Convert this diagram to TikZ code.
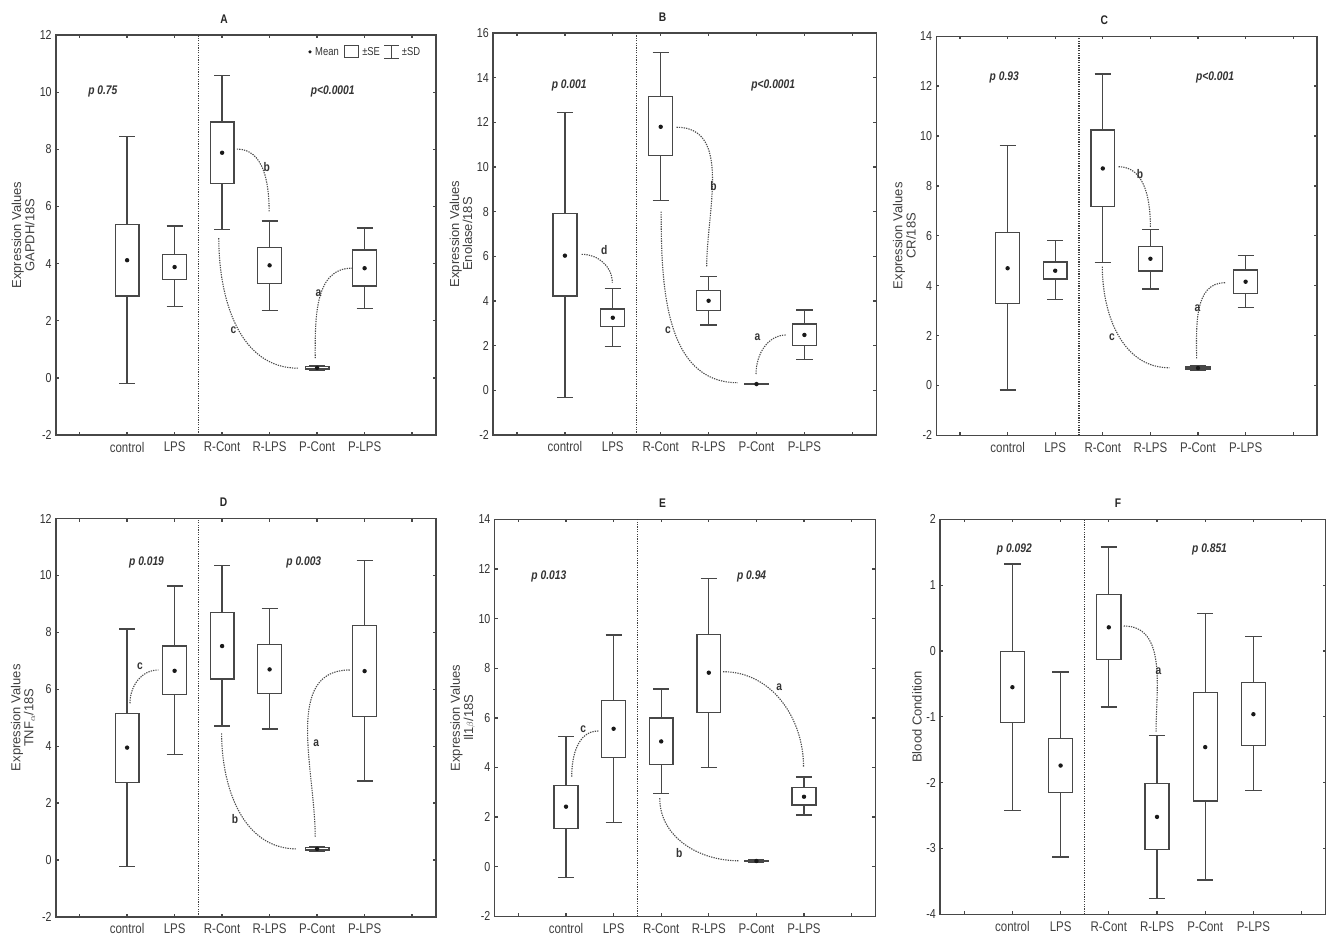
\documentclass[tikz,border=0pt]{standalone}
\usepackage{fontspec}
\setmainfont{Liberation Sans}[FakeStretch=0.82]
\newfontfamily\rotsf{Liberation Sans}
\usetikzlibrary{positioning}

\tikzset{
  frm/.style={black!72, line width=1.3pt},
  bxline/.style={black!72, line width=1.3pt},
  divline/.style={black!75, line width=1.1pt, dash pattern=on 1.2pt off 1.2pt},
  sigline/.style={black!70, line width=1.1pt, dash pattern=on 1.3pt off 1.1pt},
  siglab/.style={font=\fontsize{12.5}{12}\selectfont\bfseries, text=black!80},
  pval/.style={font=\fontsize{12.5}{12}\selectfont\bfseries\itshape, text=black!80},
  ticklab/.style={font=\fontsize{13}{13}\selectfont, text=black!80, anchor=east, inner sep=0pt},
  catlab/.style={font=\fontsize{14}{14}\selectfont, text=black!75},
  ttl/.style={font=\fontsize{12.5}{12}\selectfont\bfseries, text=black!85},
  ylab/.style={font=\rotsf\fontsize{13}{11}\selectfont, text=black!75, rotate=90, align=center},
  lgtext/.style={font=\fontsize{11.5}{11}\selectfont, text=black!80, inner sep=0pt},
  lgsym/.style={minimum width=14pt, minimum height=12pt, inner sep=0pt},
}

% box plot: x, -SD, -SE, mean, +SE, +SD
\newcommand{\bplot}[6]{%
  \draw [bxline] (#1,#2) -- (#1,#3) (#1,#5) -- (#1,#6);
  \draw [bxline] (#1-0.17,#2) -- (#1+0.17,#2) (#1-0.17,#6) -- (#1+0.17,#6);
  \draw [bxline, fill=white] (#1-0.25,#3) rectangle (#1+0.25,#5);
  \fill [black!90] (#1,#4) circle [radius=2.2pt];
}

% frame: name, ymin, ymax, y ticks
\newcommand{\pframe}[4]{%
  \draw [frm] (-0.5,#2) rectangle (7.5,#3);
  \draw [divline] (2.5,#2) -- (2.5,#3);
  \foreach \i in {0,...,7} {
    \draw [frm] (\i,#2) -- ++(0,3pt) (\i,#3) -- ++(0,-3pt);
  }
  \foreach \v in {#4} {
    \draw [frm] (-0.5,\v) -- ++(3pt,0) (7.5,\v) -- ++(-3pt,0);
    \node [ticklab, xshift=-4pt] (#1-y\v) at (-0.5,\v) {\v};
  }
  \foreach \c [count=\i] in {control,LPS,R-Cont,R-LPS,P-Cont,P-LPS}
    \node [catlab, yshift=-12pt] (#1-x\i) at (\i,#2) {\c};
}

\begin{document}
\begin{tikzpicture}[x=1pt, y=-1pt]
	\useasboundingbox (0,0) rectangle (1326,938);
	\fill [white] (0,0) rectangle (1326,938);

	% Draw panel A
	\begin{scope}[shift={(79.6,377.9)}, x=47.5pt, y=28.57pt]
		\pframe{A}{-2}{12}{-2,0,...,12}
		\node [ttl, yshift=16pt] (A-ttl) at (3.04,12) {A};
		\node [ylab] (A-ylab) at (-1.19,5) {Expression Values\\GAPDH/18S};
		\bplot{1}{-0.20}{2.87}{4.12}{5.38}{8.44}
		\bplot{2}{2.49}{3.45}{3.88}{4.33}{5.32}
		\bplot{3}{5.20}{6.80}{7.88}{8.96}{10.59}
		\bplot{4}{2.37}{3.30}{3.94}{4.56}{5.49}
		\bplot{5}{0.27}{0.31}{0.35}{0.39}{0.43}
		\bplot{6}{2.42}{3.22}{3.84}{4.48}{5.25}
		\node [pval] (A-p1) at (0.49,10.04) {p 0.75};
		\node [pval] (A-p2) at (5.33,10.04) {p<0.0001};
		\draw [sigline] (3.31,8.01) to[out=0,in=90] (3.99,5.82);
		\node [siglab] (A-b) at (3.94,7.39) {b};
		\draw [sigline] (2.93,4.89) to[out=-90,in=180] (4.6,0.34);
		\node [siglab] (A-c) at (3.24,1.68) {c};
		\draw [sigline] (4.96,0.69) to[out=90,in=180] (5.73,3.84);
		\node [siglab] (A-a) at (5.03,2.96) {a};
		% legend
		\coordinate (lgA) at (4.85,11.41);
		\fill [black!90] (lgA) circle [radius=1.8pt];
		\node [lgtext, right=5pt of lgA] (lgmean) {Mean};
		\node [lgsym, draw=black!72, line width=1.1pt, right=5pt of lgmean] (lgbox) {};
		\node [lgtext, right=3pt of lgbox] (lgse) {±SE};
		\node [lgsym, right=4pt of lgse] (lgbar) {};
		\draw [black!72, line width=1.1pt] (lgbar.north west) -- (lgbar.north east)
			(lgbar.south west) -- (lgbar.south east) (lgbar.north) -- (lgbar.south);
		\node [lgtext, right=3pt of lgbar] (lgsd) {±SD};
	\end{scope}

	% Draw panel B
	\begin{scope}[shift={(517,390.3)}, x=47.9pt, y=22.33pt]
		\pframe{B}{-2}{16}{-2,0,...,16}
		\node [ttl, yshift=16pt] (B-ttl) at (3.04,16) {B};
		\node [ylab] (B-ylab) at (-1.17,7) {Expression Values\\Enolase/18S};
		\bplot{1}{-0.33}{4.22}{6.03}{7.93}{12.45}
		\bplot{2}{1.95}{2.87}{3.25}{3.64}{4.57}
		\bplot{3}{8.49}{10.51}{11.80}{13.15}{15.14}
		\bplot{4}{2.92}{3.56}{4.01}{4.48}{5.10}
		\bplot{5}{0.25}{0.26}{0.28}{0.30}{0.31}
		\bplot{6}{1.37}{2.01}{2.48}{2.97}{3.60}
		\node [pval] (B-p1) at (1.09,13.67) {p 0.001};
		\node [pval] (B-p2) at (5.35,13.67) {p<0.0001};
		\draw [sigline] (1.35,6.09) to[out=0,in=90] (1.99,4.82);
		\node [siglab] (B-d) at (1.82,6.28) {d};
		\draw [sigline] (3.33,11.78) to[out=0,in=90] (3.96,5.54);
		\node [siglab] (B-b) at (4.1,9.16) {b};
		\draw [sigline] (3.01,8.0) to[out=-90,in=180] (4.61,0.34);
		\node [siglab] (B-c) at (3.15,2.7) {c};
		\draw [sigline] (4.99,0.73) to[out=90,in=180] (5.63,2.48);
		\node [siglab] (B-a) at (5.02,2.37) {a};
	\end{scope}

	% Draw panel C
	\begin{scope}[shift={(960,385.5)}, x=47.6pt, y=24.95pt]
		\pframe{C}{-2}{14}{-2,0,...,14}
		\node [ttl, yshift=16pt] (C-ttl) at (3.03,14) {C};
		\node [ylab] (C-ylab) at (-1.17,6) {Expression Values\\CR/18S};
		\bplot{1}{-0.18}{3.29}{4.70}{6.12}{9.61}
		\bplot{2}{3.45}{4.27}{4.60}{4.95}{5.80}
		\bplot{3}{4.92}{7.17}{8.70}{10.24}{12.48}
		\bplot{4}{3.87}{4.59}{5.08}{5.56}{6.26}
		\bplot{5}{0.62}{0.66}{0.70}{0.74}{0.78}
		\bplot{6}{3.12}{3.70}{4.16}{4.63}{5.20}
		\node [pval] (C-p1) at (0.93,12.34) {p 0.93};
		\node [pval] (C-p2) at (5.36,12.34) {p<0.001};
		\draw [sigline] (3.33,8.77) to[out=0,in=90] (4.0,6.36);
		\node [siglab] (C-b) at (3.78,8.46) {b};
		\draw [sigline] (2.99,4.76) to[out=-90,in=180] (4.4,0.71);
		\node [siglab] (C-c) at (3.19,1.92) {c};
		\draw [sigline] (4.97,1.09) to[out=90,in=180] (5.57,4.12);
		\node [siglab] (C-a) at (4.99,3.09) {a};
	\end{scope}

	% Draw panel D
	\begin{scope}[shift={(79.6,860)}, x=47.5pt, y=28.45pt]
		\pframe{D}{-2}{12}{-2,0,...,12}
		\node [ttl, yshift=16pt] (D-ttl) at (3.03,12) {D};
		\node [ylab] (D-ylab) at (-1.19,5) {Expression Values\\TNF$_{\alpha}$/18S};
		\bplot{1}{-0.23}{2.73}{3.95}{5.16}{8.12}
		\bplot{2}{3.70}{5.82}{6.65}{7.52}{9.63}
		\bplot{3}{4.71}{6.36}{7.52}{8.69}{10.35}
		\bplot{4}{4.60}{5.86}{6.70}{7.58}{8.85}
		\bplot{5}{0.31}{0.35}{0.39}{0.43}{0.47}
		\bplot{6}{2.78}{5.04}{6.64}{8.24}{10.52}
		\node [pval] (D-p1) at (1.41,10.46) {p 0.019};
		\node [pval] (D-p2) at (4.72,10.46) {p 0.003};
		\draw [sigline] (1.06,5.51) to[out=90,in=180] (1.66,6.68);
		\node [siglab] (D-c) at (1.27,6.8) {c};
		\draw [sigline] (2.99,4.45) to[out=-90,in=180] (4.57,0.39);
		\node [siglab] (D-b) at (3.27,1.43) {b};
		\draw [sigline] (4.96,0.82) to[out=90,in=180] (5.69,6.68);
		\node [siglab] (D-a) at (4.98,4.12) {a};
	\end{scope}

	% Draw panel E
	\begin{scope}[shift={(518.4,866.7)}, x=47.6pt, y=24.81pt]
		\pframe{E}{-2}{14}{-2,0,...,14}
		\node [ttl, yshift=16pt] (E-ttl) at (3.03,14) {E};
		\node [ylab] (E-ylab) at (-1.17,6) {Expression Values\\Il1{\small$\beta$}/18S};
		\bplot{1}{-0.43}{1.55}{2.42}{3.26}{5.24}
		\bplot{2}{1.79}{4.41}{5.56}{6.69}{9.34}
		\bplot{3}{2.94}{4.11}{5.05}{5.99}{7.16}
		\bplot{4}{3.99}{6.22}{7.82}{9.37}{11.62}
		\bplot{5}{0.17}{0.20}{0.23}{0.26}{0.29}
		\bplot{6}{2.08}{2.49}{2.82}{3.18}{3.62}
		\node [pval] (E-p1) at (0.64,11.72) {p 0.013};
		\node [pval] (E-p2) at (4.9,11.72) {p 0.94};
		\draw [sigline] (1.12,3.63) to[out=90,in=180] (1.68,5.47);
		\node [siglab] (E-c) at (1.36,5.55) {c};
		\draw [sigline] (2.97,2.76) to[out=-90,in=180] (4.62,0.24);
		\node [siglab] (E-b) at (3.38,0.54) {b};
		\draw [sigline] (4.3,7.86) to[out=0,in=90] (5.99,4.03);
		\node [siglab] (E-a) at (5.48,7.23) {a};
	\end{scope}

	% Draw panel F
	\begin{scope}[shift={(964.2,651)}, x=48.2pt, y=65.83pt]
		\pframe{F}{-4}{2}{-4,-3,...,2}
		\node [ttl, yshift=16pt] (F-ttl) at (3.19,2) {F};
		\node [ylab] (F-ylab) at (-0.98,-1) {Blood Condition};
		\bplot{1}{-2.42}{-1.09}{-0.55}{-0.01}{1.32}
		\bplot{2}{-3.13}{-2.15}{-1.74}{-1.33}{-0.32}
		\bplot{3}{-0.85}{-0.13}{0.36}{0.86}{1.58}
		\bplot{4}{-3.76}{-3.01}{-2.52}{-2.01}{-1.28}
		\bplot{5}{-3.48}{-2.28}{-1.46}{-0.63}{0.57}
		\bplot{6}{-2.12}{-1.44}{-0.96}{-0.48}{0.22}
		\node [pval] (F-p1) at (1.04,1.55) {p 0.092};
		\node [pval] (F-p2) at (5.09,1.55) {p 0.851};
		\draw [sigline] (3.31,0.38) to[out=0,in=90] (3.98,-1.23);
		\node [siglab] (F-a) at (4.03,-0.3) {a};
	\end{scope}
\end{tikzpicture}
\end{document}
